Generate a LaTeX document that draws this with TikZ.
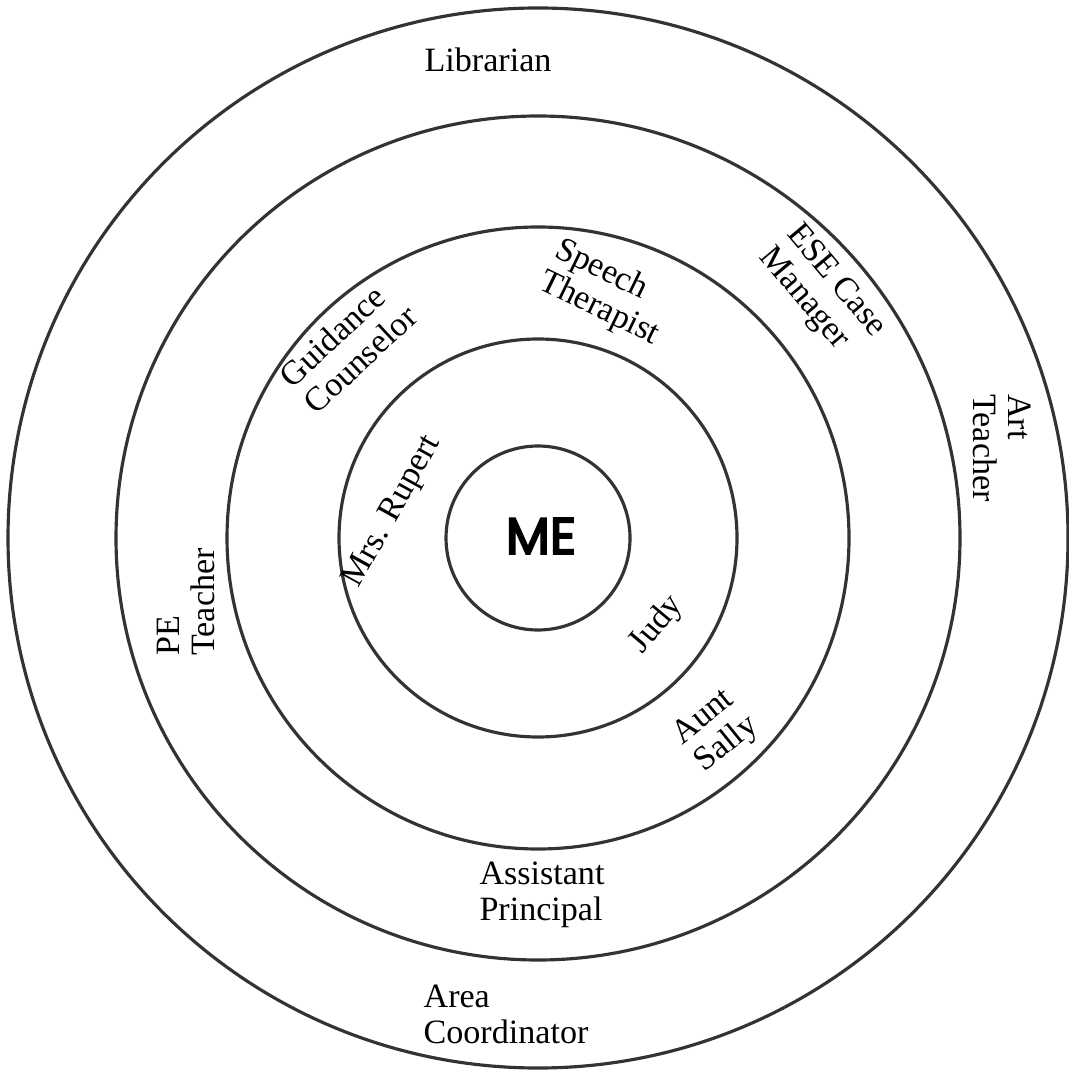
\documentclass[tikz,border=0pt]{standalone}
\usepackage{fontspec}
\setmainfont{Liberation Serif}
\newfontfamily\mefont[FakeBold=4]{Poppins}

\begin{document}
\begin{tikzpicture}[x=0.1mm,y=-0.1mm,
  ring/.style={line width=0.9pt,black!80},
  who/.style={inner sep=0pt,align=left,font=\fontsize{9.7}{10.2}\selectfont}]
\useasboundingbox (0,0) rectangle (1068,1074);
% The rings
\coordinate (c) at (538,538);
\foreach \r in {9.2,19.9,31.1,42.2,53.0}
{
  \draw[ring] (c) circle (\r mm);
}

% The middle
\node[font=\mefont\fontsize{14.5}{14.5}\selectfont] (me) at (541,536) {ME};

% Names, inside out
\node[who,rotate=61] (rupert) at (393,512) {Mrs. Rupert};
\node[who,rotate=50] (judy) at (657,625) {Judy};
\node[who,rotate=43] (guidance) at (348,346) {Guidance\\Counselor};
\node[who,rotate=-26] (speech) at (607,293) {Speech\\Therapist};
\node[who,rotate=39] (sally) at (716,731) {Aunt\\Sally};
\node[who,rotate=-50] (ese) at (822,293) {ESE Case\\Manager};
\node[who,rotate=90] (pe) at (186,602) {PE\\Teacher};
\node[who] (assistant) at (542,895) {Assistant\\Principal};
\node[who] (librarian) at (488,60) {Librarian};
\node[who,rotate=-90] (art) at (1002,448) {Art\\Teacher};
\node[who] (area) at (506,1014) {Area\\Coordinator};
\end{tikzpicture}
\end{document}
